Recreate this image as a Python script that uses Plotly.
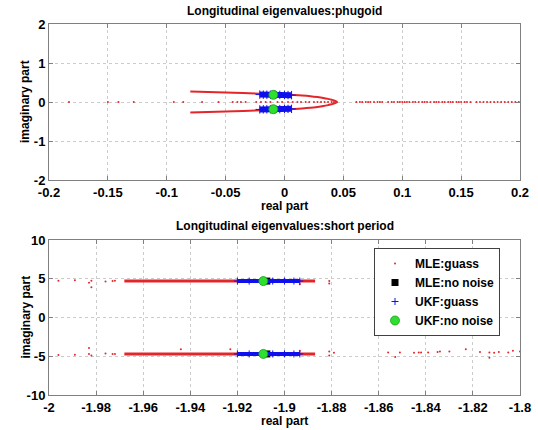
import plotly.graph_objects as go

# ---------------- data: phugoid ----------------
ph_mle_curve_x = [-0.080, -0.065, -0.050, -0.035, -0.020, -0.010, 0.000, 0.008, 0.015, 0.022, 0.028, 0.033, 0.037, 0.040, 0.043, 0.045]
ph_mle_curve_y = [0.270, 0.258, 0.245, 0.230, 0.212, 0.200, 0.190, 0.180, 0.168, 0.150, 0.128, 0.105, 0.080, 0.058, 0.030, 0.000]
ph_mle_real_x = [-0.183, -0.150, -0.141, -0.128, -0.094, -0.086, -0.070, -0.056, -0.044, -0.040, -0.037,
                 -0.033, -0.024, -0.020, -0.016, -0.012, -0.006, -0.002, 0.003, 0.007, 0.011, 0.014,
                 0.018, 0.021, 0.025, 0.028, 0.031, 0.034, 0.037, 0.040, 0.042, 0.061, 0.064, 0.066,
                 0.069, 0.071, 0.073, 0.076, 0.079, 0.081, 0.083, 0.088, 0.091, 0.093, 0.096, 0.098,
                 0.100, 0.102, 0.104, 0.106, 0.109, 0.111, 0.114, 0.117, 0.119, 0.121, 0.124, 0.127,
                 0.129, 0.131, 0.134, 0.136, 0.139, 0.141, 0.143, 0.146, 0.148, 0.150, 0.153, 0.155,
                 0.158, 0.163, 0.166, 0.169, 0.172, 0.175, 0.178, 0.181, 0.184, 0.187, 0.190, 0.193,
                 0.196, 0.199]
ph_ukf_x = [-0.021, -0.018, -0.015, -0.012, -0.008, -0.004, 0.000, 0.003, 0.006]
ph_ukf_y = [0.190, 0.188, 0.187, 0.186, 0.184, 0.182, 0.180, 0.178, 0.176]
ph_ukf_nn_x = [-0.0095, -0.0095]
ph_ukf_nn_y = [0.185, -0.185]
ph_mle_nn_x = [-0.0093, -0.0093]
ph_mle_nn_y = [0.185, -0.185]

# ---------------- data: short period ----------------
sp_mle_band_x = [-1.968, -1.950, -1.930, -1.910, -1.895, -1.887]
sp_mle_band_y = [4.70, 4.70, 4.70, 4.70, 4.70, 4.70]
sp_mle_up_x = [-1.996, -1.989, -1.983, -1.982, -1.982, -1.976, -1.973, -1.972, -1.8935, -1.881, -1.881]
sp_mle_up_y = [4.75, 4.80, 4.50, 4.75, 3.90, 4.65, 4.70, 4.75, 4.30, 4.70, 4.40]
sp_mle_lo_x = [-1.996, -1.989, -1.983, -1.983, -1.982, -1.976, -1.973, -1.972, -1.944, -1.923, -1.8935,
               -1.881, -1.881, -1.879, -1.856, -1.853, -1.851, -1.845, -1.843, -1.842, -1.839, -1.835,
               -1.834, -1.830, -1.823, -1.817, -1.813, -1.813, -1.811, -1.809, -1.805, -1.803, -1.800]
sp_mle_lo_y = [-4.85, -4.80, -3.95, -4.70, -4.90, -4.65, -4.70, -4.70, -4.10, -4.10, -4.30,
               -4.40, -4.90, -4.55, -4.50, -5.10, -4.50, -4.55, -4.50, -4.50, -4.50, -4.45,
               -4.40, -4.40, -4.10, -4.45, -4.50, -5.20, -4.55, -4.45, -4.50, -4.30, -4.40]
sp_ukf_x = [-1.9200, -1.9150, -1.9100, -1.9050, -1.9000, -1.8960, -1.8935]
sp_ukf_y = [4.70, 4.70, 4.70, 4.70, 4.70, 4.70, 4.70]
sp_ukf_nn_x = [-1.909, -1.909]
sp_ukf_nn_y = [4.70, -4.70]
sp_mle_nn_x = [-1.9075, -1.9075]
sp_mle_nn_y = [4.70, -4.70]

RED = "#e3262a"
BLUE = "#1010ee"
GREEN = "#2ee02e"

fig = go.Figure()

# ---- phugoid traces (xaxis/yaxis) ----
for sgn in (1, -1):
    fig.add_trace(go.Scatter(x=ph_mle_curve_x, y=[sgn * v for v in ph_mle_curve_y], mode="lines",
                             line=dict(color=RED, width=2, shape="spline"), showlegend=False, hoverinfo="skip"))
fig.add_trace(go.Scatter(x=ph_mle_real_x, y=[0] * len(ph_mle_real_x), mode="markers",
                         marker=dict(color=RED, size=2), showlegend=False))
for sgn in (1, -1):
    fig.add_trace(go.Scatter(x=ph_ukf_x, y=[sgn * v for v in ph_ukf_y], mode="lines",
                             line=dict(color=BLUE, width=6), showlegend=False))
    fig.add_trace(go.Scatter(x=ph_ukf_x, y=[sgn * v for v in ph_ukf_y], mode="markers",
                             marker=dict(symbol="cross-thin", size=6, line=dict(color=BLUE, width=1)),
                             showlegend=False))
fig.add_trace(go.Scatter(x=ph_mle_nn_x, y=ph_mle_nn_y, mode="markers",
                         marker=dict(symbol="square", color="black", size=7), showlegend=False))
fig.add_trace(go.Scatter(x=ph_ukf_nn_x, y=ph_ukf_nn_y, mode="markers",
                         marker=dict(symbol="circle", color=GREEN, size=9, line=dict(color="#1a9a1a", width=0.8)),
                         showlegend=False))

# ---- short period traces (xaxis2/yaxis2) ----
for sgn in (1, -1):
    fig.add_trace(go.Scatter(x=sp_mle_band_x, y=[sgn * v for v in sp_mle_band_y], mode="lines",
                             line=dict(color=RED, width=3), showlegend=False,
                             xaxis="x2", yaxis="y2"))
fig.add_trace(go.Scatter(x=sp_mle_up_x + sp_mle_lo_x, y=sp_mle_up_y + sp_mle_lo_y, mode="markers",
                         marker=dict(color=RED, size=2), name="<b>MLE:guass</b>",
                         xaxis="x2", yaxis="y2"))
fig.add_trace(go.Scatter(x=sp_mle_nn_x, y=sp_mle_nn_y, mode="markers",
                         marker=dict(symbol="square", color="black", size=7), name="<b>MLE:no noise</b>",
                         xaxis="x2", yaxis="y2"))
for sgn in (1, -1):
    fig.add_trace(go.Scatter(x=sp_ukf_x, y=[sgn * v for v in sp_ukf_y], mode="lines",
                             line=dict(color=BLUE, width=4), showlegend=False,
                             xaxis="x2", yaxis="y2"))
fig.add_trace(go.Scatter(x=sp_ukf_x + sp_ukf_x, y=sp_ukf_y + [-v for v in sp_ukf_y], mode="markers",
                         marker=dict(symbol="cross-thin", size=5, line=dict(color=BLUE, width=1)),
                         name="<b>UKF:guass</b>", xaxis="x2", yaxis="y2"))
fig.add_trace(go.Scatter(x=sp_ukf_nn_x, y=sp_ukf_nn_y, mode="markers",
                         marker=dict(symbol="circle", color=GREEN, size=9, line=dict(color="#1a9a1a", width=0.8)),
                         name="<b>UKF:no noise</b>", xaxis="x2", yaxis="y2"))

FONT = "Liberation Sans"
tickfont = dict(family=FONT, size=13, color="black")
common = dict(showgrid=True, gridcolor="#cccccc", griddash="dot", gridwidth=1,
              showline=True, linecolor="#808080", linewidth=1, mirror="ticks",
              ticks="inside", ticklen=4, tickcolor="#808080", zeroline=False,
              tickfont=tickfont, automargin=False)

fig.update_layout(
    width=538, height=430,
    margin=dict(l=0, r=0, t=0, b=0),
    paper_bgcolor="white", plot_bgcolor="white",
    font=dict(family=FONT, color="black"),
    xaxis=dict(domain=[49 / 538, 520 / 538], range=[-0.2, 0.2], tickvals=[-0.2, -0.15, -0.1, -0.05, 0, 0.05, 0.1, 0.15, 0.2],
               ticktext=["-0.2", "-0.15", "-0.1", "-0.05", "0", "0.05", "0.1", "0.15", "0.2"],
               anchor="y", **common),
    yaxis=dict(domain=[1 - 180 / 430, 1 - 24 / 430], range=[-2, 2], tickvals=[-2, -1, 0, 1, 2],
               anchor="x", **common),
    xaxis2=dict(domain=[49 / 538, 520 / 538], range=[-2, -1.8],
                tickvals=[-2, -1.98, -1.96, -1.94, -1.92, -1.9, -1.88, -1.86, -1.84, -1.82, -1.8],
                ticktext=["-2", "-1.98", "-1.96", "-1.94", "-1.92", "-1.9", "-1.88", "-1.86", "-1.84", "-1.82", "-1.8"],
                anchor="y2", **common),
    yaxis2=dict(domain=[1 - 395 / 430, 1 - 240 / 430], range=[-10, 10], tickvals=[-10, -5, 0, 5, 10],
                anchor="x2", **common),
    showlegend=True,
    legend=dict(x=374 / 538, y=1 - 248 / 430, xanchor="left", yanchor="top",
                bgcolor="white", bordercolor="#404040", borderwidth=1,
                font=dict(family=FONT, size=12, color="black"),
                tracegroupgap=0, itemsizing="trace"),
)

ann = []
bold = dict(family=FONT, size=12, color="black")
ann.append(dict(text="<b>Longitudinal eigenvalues:phugoid</b>", x=284.5 / 538, y=1 - 11 / 430,
                xref="paper", yref="paper", showarrow=False, font=bold, xanchor="center", yanchor="middle"))
ann.append(dict(text="<b>Longitudinal eigenvalues:short period</b>", x=284.5 / 538, y=1 - 226 / 430,
                xref="paper", yref="paper", showarrow=False, font=bold, xanchor="center", yanchor="middle"))
ann.append(dict(text="<b>real part</b>", x=284.5 / 538, y=1 - 206 / 430,
                xref="paper", yref="paper", showarrow=False, font=bold, xanchor="center", yanchor="middle"))
ann.append(dict(text="<b>real part</b>", x=284.5 / 538, y=1 - 421 / 430,
                xref="paper", yref="paper", showarrow=False, font=bold, xanchor="center", yanchor="middle"))
ann.append(dict(text="<b>imaginary part</b>", x=25 / 538, y=1 - 102 / 430, textangle=-90,
                xref="paper", yref="paper", showarrow=False, font=bold, xanchor="center", yanchor="middle"))
ann.append(dict(text="<b>imaginary part</b>", x=25 / 538, y=1 - 317.5 / 430, textangle=-90,
                xref="paper", yref="paper", showarrow=False, font=bold, xanchor="center", yanchor="middle"))
fig.update_layout(annotations=ann)

for ax in ("xaxis", "yaxis", "xaxis2", "yaxis2"):
    a = fig.layout[ax]
    if a.ticktext:
        fig.layout[ax].ticktext = ["<b>" + t + "</b>" for t in a.ticktext]
    else:
        fig.layout[ax].ticktext = ["<b>" + str(v) + "</b>" for v in a.tickvals]

fig.write_html("out.html", config={"displayModeBar": False},
               post_script="document.body.style.margin='0';document.body.style.padding='0';"
                           "document.body.style.overflow='hidden';")
